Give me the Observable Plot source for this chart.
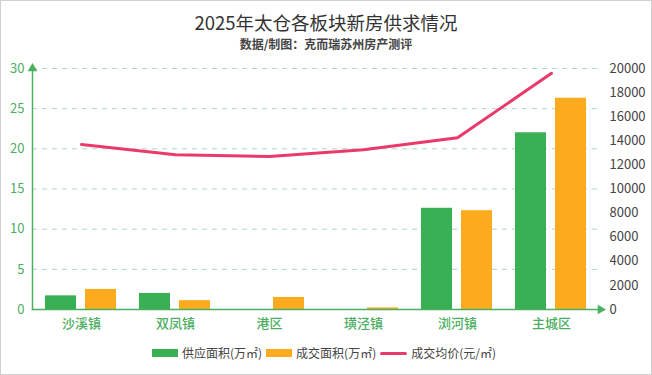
<!DOCTYPE html>
<html><head><meta charset="utf-8">
<script src="https://cdn.jsdelivr.net/npm/d3@7"></script>
<script src="https://cdn.jsdelivr.net/npm/@observablehq/plot@0.6"></script>
<style>
html,body{margin:0;padding:0;background:#fff;}
#wrap{width:652px;height:375px;box-sizing:border-box;border:1px solid #cfcfcf;font-family:"Noto Sans CJK SC","Noto Sans",sans-serif;position:relative;overflow:hidden;}
#title{position:absolute;left:0;top:9px;width:650px;text-align:center;font-size:18.5px;color:#333;line-height:24px;}
#sub{position:absolute;left:0;top:34px;width:650px;text-align:center;font-size:12px;color:#444;font-weight:bold;line-height:17px;}
#chart{position:absolute;left:0;top:51px;}
#legend{position:absolute;left:0;top:343px;width:650px;display:flex;justify-content:center;align-items:center;font-size:12px;color:#444;line-height:18px;}
.sw{display:inline-block;width:26px;height:8px;margin-right:4px;}
.ln{display:inline-block;width:27px;height:3px;margin-right:4px;border-radius:2px;}
.it{display:flex;align-items:center;margin-right:4px;}
</style></head>
<body>
<div id="wrap">
<div id="title">2025年太仓各板块新房供求情况</div>
<div id="sub">数据/制图：克而瑞苏州房产测评</div>
<div id="chart"></div>
<div id="legend"></div>
</div>
<script>
const categories = ["沙溪镇","双凤镇","港区","璜泾镇","浏河镇","主城区"];
const supply = [1.7, 2.0, 0, 0, 12.6, 22.0];
const deal = [2.5, 1.1, 1.5, 0.2, 12.3, 26.3];
const price = [13700, 12850, 12700, 13250, 14250, 19600];
const leftTicks = [0,5,10,15,20,25,30];
const rightTicks = [0,2000,4000,6000,8000,10000,12000,14000,16000,18000,20000];
const seriesNames = ["供应面积(万㎡)","成交面积(万㎡)","成交均价(元/㎡)"];

const GREEN = "#39b054", ORANGE = "#fdab1e", PINK = "#ea3a6b", AX = "#4cae5f";
const LMAX = 30, RMAX = 20000;
const toLeft = v => v * LMAX / RMAX;

const rows = categories.map((c,i)=>({c, s: supply[i], d: deal[i], p: price[i]}));

const chart = Plot.plot({
  width: 650, height: 281,
  marginLeft: 31, marginRight: 51, marginTop: 16, marginBottom: 24,
  style: {fontFamily: '"Noto Sans CJK SC","Noto Sans",sans-serif', background: "transparent"},
  x: {type: "band", domain: categories, padding: 0},
  y: {domain: [0, LMAX]},
  marks: [
    Plot.gridY(leftTicks.filter(d=>d>0), {stroke: "#a9d8c4", strokeOpacity: 1, strokeDasharray: "5,5"}),
    Plot.barY(rows, {x: "c", y: "s", fill: GREEN, insetLeft: 11, insetRight: 52}),
    Plot.barY(rows, {x: "c", y: "d", fill: ORANGE, insetLeft: 51, insetRight: 12}),
    Plot.line(rows, {x: "c", y: d => toLeft(d.p), stroke: PINK, strokeWidth: 3, strokeLinejoin: "round", strokeLinecap: "round"}),
    Plot.axisY(leftTicks, {tickSize: 0, tickPadding: 8, fill: AX, fontSize: 13, label: null}),
    Plot.text(rightTicks, {y: d => toLeft(d), text: d => String(d), frameAnchor: "right", dx: 9, textAnchor: "start", fill: "#444", fontSize: 13}),
    Plot.axisX({tickSize: 0, tickPadding: 9, fill: AX, fontSize: 13, fontWeight: 500, label: null}),
    Plot.frame({anchor: "left", stroke: AX, strokeWidth: 1.5}),
    Plot.frame({anchor: "bottom", stroke: AX, strokeWidth: 1.5}),
    Plot.dot([0], {frameAnchor: "top-left", symbol: "triangle", r: 3.6, fill: AX, stroke: null}),
    Plot.dot([0], {frameAnchor: "bottom-right", symbol: "triangle", r: 3.6, fill: AX, stroke: null, rotate: 90})
  ]
});
document.getElementById("chart").appendChild(chart);

const legend = document.getElementById("legend");
const colors = [GREEN, ORANGE, PINK];
seriesNames.forEach((n,i)=>{
  const it = document.createElement("span"); it.className = "it";
  const sw = document.createElement("span");
  sw.className = i < 2 ? "sw" : "ln";
  sw.style.background = colors[i];
  it.appendChild(sw);
  it.appendChild(document.createTextNode(n));
  legend.appendChild(it);
});
</script>
</body></html>
